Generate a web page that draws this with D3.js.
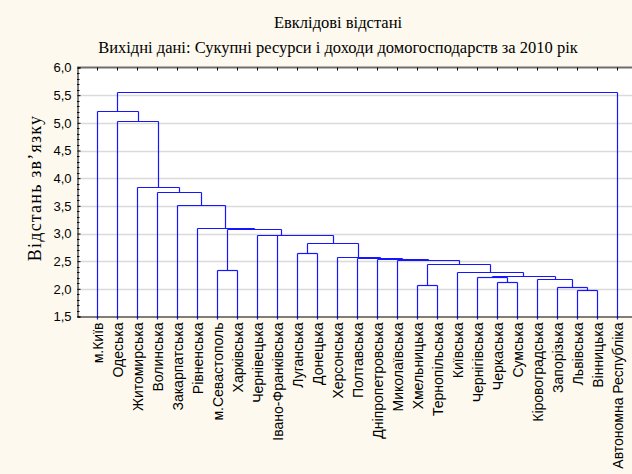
<!DOCTYPE html>
<html>
<head>
<meta charset="utf-8">
<script src="https://cdn.jsdelivr.net/npm/d3@7"></script>
<style>
  html, body { margin: 0; padding: 0; background: #fdf9ee; }
  svg { display: block; }
</style>
</head>
<body>
<script>
// ---- data ----
const leaves = ["м.Київ","Одеська","Житомирська","Волинська","Закарпатська","Рівненська",
  "м.Севастополь","Харківська","Чернівецька","Івано-Франківська","Луганська","Донецька",
  "Херсонська","Полтавська","Дніпропетровська","Миколаївська","Хмельницька","Тернопільська",
  "Київська","Чернігівська","Черкаська","Сумська","Кіровоградська","Запорізька","Львівська",
  "Вінницька","Автономна Республіка"];
// merges: [childA, childB, linkage distance]; ids < 27 are leaves, id 27+k is merge k
const mergeA = [24,23,16,20,22,19,32,18,6,29,15,14,13,12,10,41,9,8,35,5,4,3,2,1,0,51];
const mergeB = [25,27,17,21,28,30,31,33,7,34,36,37,38,39,11,40,42,43,44,45,46,47,48,49,50,26];
const mergeH = [1.98,2.04,2.065,2.12,2.18,2.22,2.24,2.30,2.34,2.44,2.53,2.545,2.56,2.575,2.655,2.82,2.965,2.98,3.075,3.095,3.52,3.745,3.835,5.04,5.22,5.55];
const yTicks = [1.5,2.0,2.5,3.0,3.5,4.0,4.5,5.0,5.5,6.0];
const title1 = "Евклідові відстані";
const title2 = "Вихідні дані: Сукупні ресурси і доходи домогосподарств за 2010 рік";
const yTitle = "Відстань зв’язку";

// ---- layout ----
const W = 632, H = 474;
const pL = 77, pR = 637, pT = 67.5, pB = 316.5;
const svg = d3.select("body").append("svg").attr("width", W).attr("height", H);
svg.append("rect").attr("width", W).attr("height", H).attr("fill", "#fdf9ee");

const x = d3.scalePoint().domain(leaves).range([pL, pR]).padding(1);
const y = d3.scaleLinear().domain([1.5, 6.0]).range([pB, pT]);

// plot background
svg.append("rect").attr("x", pL).attr("y", pT).attr("width", pR - pL).attr("height", pB - pT).attr("fill", "#ffffff");

// gridlines
svg.append("g").selectAll("line").data(yTicks.filter(d => d > 1.5 && d < 6))
  .join("line")
  .attr("x1", pL).attr("x2", pR)
  .attr("y1", d => Math.round(y(d)) + 0.5).attr("y2", d => Math.round(y(d)) + 0.5)
  .attr("stroke", "#dadada").attr("stroke-width", 1.6);

// dendrogram
const nodeX = leaves.map(l => x(l));
const nodeY = leaves.map(() => y(1.5));
const segs = [];
mergeA.forEach((a, k) => {
  const b = mergeB[k], h = mergeH[k];
  const yh = y(h);
  segs.push([nodeX[a], nodeY[a], nodeX[a], yh]);
  segs.push([nodeX[b], nodeY[b], nodeX[b], yh]);
  segs.push([nodeX[a], yh, nodeX[b], yh]);
  nodeX.push((nodeX[a] + nodeX[b]) / 2);
  nodeY.push(yh);
});
const g = svg.append("g").attr("fill", "none").attr("stroke", "#1515ff").attr("stroke-width", 1.2);
g.selectAll("line").data(segs).join("line")
  .attr("x1", d => Math.round(d[0]) + 0.5).attr("y1", d => Math.round(d[1]) + 0.5)
  .attr("x2", d => Math.round(d[2]) + 0.5).attr("y2", d => Math.round(d[3]) + 0.5);
// leaf stubs below axis
g.append("g").selectAll("line").data(leaves).join("line")
  .attr("x1", d => Math.round(x(d)) + 0.5).attr("x2", d => Math.round(x(d)) + 0.5)
  .attr("y1", pB).attr("y2", pB + 3);

// top border with ticks
svg.append("line").attr("x1", pL).attr("x2", pR).attr("y1", pT).attr("y2", pT)
  .attr("stroke", "#6e6e6e").attr("stroke-width", 2);
svg.append("g").selectAll("line").data(leaves).join("line")
  .attr("x1", d => Math.round(x(d)) + 0.5).attr("x2", d => Math.round(x(d)) + 0.5)
  .attr("y1", pT).attr("y2", pT + 3).attr("stroke", "#000");

// y axis
const yAxis = d3.axisLeft(y).tickValues(yTicks).tickSize(-3).tickPadding(6)
  .tickFormat(d => d3.format(".1f")(d).replace(".", ","));
const ya = svg.append("g").attr("transform", `translate(${pL + 0.5},0)`).call(yAxis);
ya.select(".domain").attr("stroke", "#000");
ya.selectAll(".tick line").attr("stroke", "#000");
ya.selectAll("text").attr("font-family", "Liberation Sans, Arial, sans-serif").attr("font-size", 13).attr("fill", "#000");
// minor ticks
const minor = d3.range(15, 61).map(v => v / 10).filter(v => Math.abs(v * 2 - Math.round(v * 2)) > 1e-6);
svg.append("g").selectAll("line").data(minor).join("line")
  .attr("x1", pL).attr("x2", pL + 2.5)
  .attr("y1", d => Math.round(y(d)) + 0.5).attr("y2", d => Math.round(y(d)) + 0.5)
  .attr("stroke", "#000");

// x axis
svg.append("line").attr("x1", pL).attr("x2", pR).attr("y1", pB + 0.5).attr("y2", pB + 0.5)
  .attr("stroke", "#000").attr("stroke-width", 1.2);

// x labels
svg.append("g").selectAll("text").data(leaves).join("text")
  .attr("transform", d => `translate(${Math.round(x(d)) + 5.5},${pB + 6}) rotate(-90)`)
  .attr("text-anchor", "end")
  .attr("font-family", "Liberation Sans, Arial, sans-serif").attr("font-size", 14)
  .attr("fill", "#000")
  .text(d => d);

// titles
svg.append("text").attr("x", 338).attr("y", 28).attr("text-anchor", "middle")
  .attr("font-family", "Liberation Serif, Times New Roman, serif").attr("font-size", 16.5).text(title1);
svg.append("text").attr("x", 338).attr("y", 53).attr("text-anchor", "middle")
  .attr("font-family", "Liberation Serif, Times New Roman, serif").attr("font-size", 16.5).text(title2);
svg.append("text").attr("transform", `translate(41,${(pT + pB) / 2 - 4}) rotate(-90)`)
  .attr("text-anchor", "middle").attr("letter-spacing", 1.2)
  .attr("font-family", "Liberation Serif, Times New Roman, serif").attr("font-size", 18).text(yTitle);
</script>
</body>
</html>
